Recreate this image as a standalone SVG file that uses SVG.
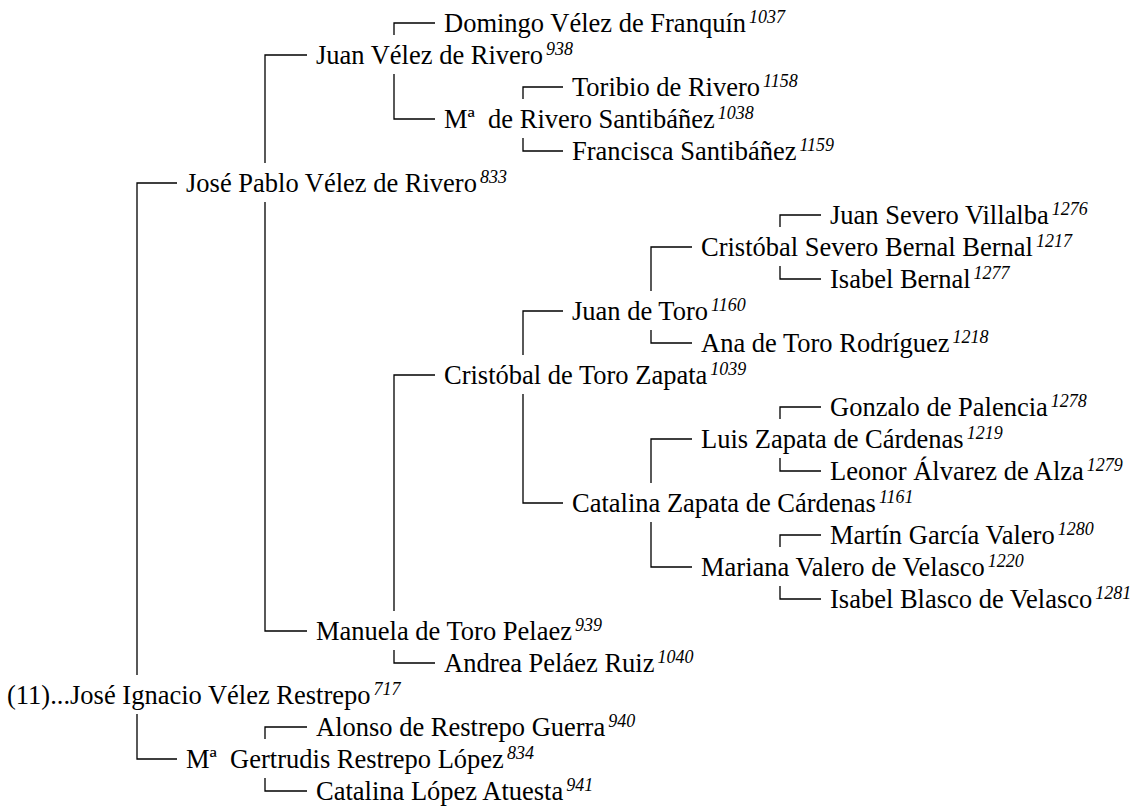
<svg xmlns="http://www.w3.org/2000/svg" width="1139" height="809" viewBox="0 0 1139 809">
<style>
text{font-family:"Liberation Serif","Times New Roman",serif;font-size:26.5px;fill:#000;white-space:pre}
.s{font-style:italic;font-size:18px}
#connectors path{fill:none;stroke:#000;stroke-width:1.3}
</style>
<rect width="1139" height="809" fill="#fff"/>
<g id="connectors">
<path d="M394,35 V23 H435"/>
<path d="M265,163 V55 H307"/>
<path d="M523,99 V87 H563"/>
<path d="M394,74 V119 H435"/>
<path d="M523,138 V151 H563"/>
<path d="M137,675 V183 H177"/>
<path d="M780,227 V215 H821"/>
<path d="M651,291 V247 H692"/>
<path d="M780,266 V279 H821"/>
<path d="M523,355 V311 H563"/>
<path d="M651,330 V343 H692"/>
<path d="M394,611 V375 H435"/>
<path d="M780,419 V407 H821"/>
<path d="M651,483 V439 H692"/>
<path d="M780,458 V471 H821"/>
<path d="M523,394 V503 H563"/>
<path d="M780,547 V535 H821"/>
<path d="M651,522 V567 H692"/>
<path d="M780,586 V599 H821"/>
<path d="M265,202 V631 H307"/>
<path d="M394,650 V663 H435"/>
<path d="M265,739 V727 H307"/>
<path d="M137,714 V759 H177"/>
<path d="M265,778 V791 H307"/>
</g>
<g id="n1037"><text x="444" y="32">Domingo Vélez de Franquín<tspan class="s" dx="3" dy="-9">1037</tspan></text></g>
<g id="n938"><text x="316" y="64">Juan Vélez de Rivero<tspan class="s" dx="3" dy="-9">938</tspan></text></g>
<g id="n1158"><text x="572" y="96">Toribio de Rivero<tspan class="s" dx="3" dy="-9">1158</tspan></text></g>
<g id="n1038"><text x="444" y="128">Mª  de Rivero Santibáñez<tspan class="s" dx="3" dy="-9">1038</tspan></text></g>
<g id="n1159"><text x="572" y="160">Francisca Santibáñez<tspan class="s" dx="3" dy="-9">1159</tspan></text></g>
<g id="n833"><text x="186" y="192">José Pablo Vélez de Rivero<tspan class="s" dx="3" dy="-9">833</tspan></text></g>
<g id="n1276"><text x="830" y="224">Juan Severo Villalba<tspan class="s" dx="3" dy="-9">1276</tspan></text></g>
<g id="n1217"><text x="701" y="256">Cristóbal Severo Bernal Bernal<tspan class="s" dx="3" dy="-9">1217</tspan></text></g>
<g id="n1277"><text x="830" y="288">Isabel Bernal<tspan class="s" dx="3" dy="-9">1277</tspan></text></g>
<g id="n1160"><text x="572" y="320">Juan de Toro<tspan class="s" dx="3" dy="-9">1160</tspan></text></g>
<g id="n1218"><text x="701" y="352">Ana de Toro Rodríguez<tspan class="s" dx="3" dy="-9">1218</tspan></text></g>
<g id="n1039"><text x="444" y="384">Cristóbal de Toro Zapata<tspan class="s" dx="3" dy="-9">1039</tspan></text></g>
<g id="n1278"><text x="830" y="416">Gonzalo de Palencia<tspan class="s" dx="3" dy="-9">1278</tspan></text></g>
<g id="n1219"><text x="701" y="448">Luis Zapata de Cárdenas<tspan class="s" dx="3" dy="-9">1219</tspan></text></g>
<g id="n1279"><text x="830" y="480">Leonor Álvarez de Alza<tspan class="s" dx="3" dy="-9">1279</tspan></text></g>
<g id="n1161"><text x="572" y="512">Catalina Zapata de Cárdenas<tspan class="s" dx="3" dy="-9">1161</tspan></text></g>
<g id="n1280"><text x="830" y="544">Martín García Valero<tspan class="s" dx="3" dy="-9">1280</tspan></text></g>
<g id="n1220"><text x="701" y="576">Mariana Valero de Velasco<tspan class="s" dx="3" dy="-9">1220</tspan></text></g>
<g id="n1281"><text x="830" y="608">Isabel Blasco de Velasco<tspan class="s" dx="3" dy="-9">1281</tspan></text></g>
<g id="n939"><text x="316" y="640">Manuela de Toro Pelaez<tspan class="s" dx="3" dy="-9">939</tspan></text></g>
<g id="n1040"><text x="444" y="672">Andrea Peláez Ruiz<tspan class="s" dx="3" dy="-9">1040</tspan></text></g>
<g id="n717"><text x="7" y="704">(11)...José Ignacio Vélez Restrepo<tspan class="s" dx="3" dy="-9">717</tspan></text></g>
<g id="n940"><text x="316" y="736">Alonso de Restrepo Guerra<tspan class="s" dx="3" dy="-9">940</tspan></text></g>
<g id="n834"><text x="186" y="768">Mª  Gertrudis Restrepo López<tspan class="s" dx="3" dy="-9">834</tspan></text></g>
<g id="n941"><text x="316" y="800">Catalina López Atuesta<tspan class="s" dx="3" dy="-9">941</tspan></text></g>
</svg>
